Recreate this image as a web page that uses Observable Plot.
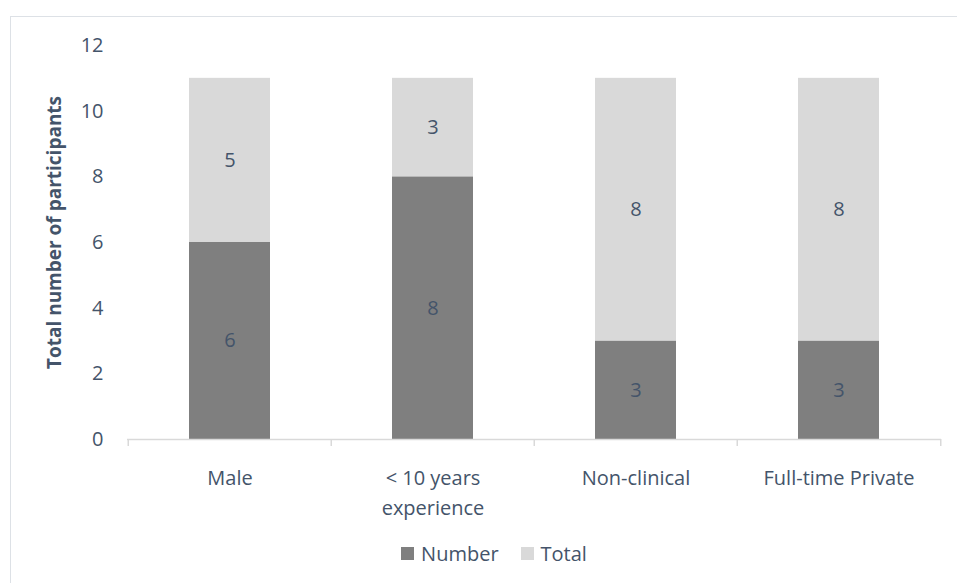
<!DOCTYPE html>
<html>
<head>
<meta charset="utf-8">
<script src="https://cdn.jsdelivr.net/npm/d3@7"></script>
<script src="https://cdn.jsdelivr.net/npm/@observablehq/plot@0.6"></script>
<style>
  html, body { margin: 0; padding: 0; background: #fff; }
  body { width: 957px; height: 583px; position: relative; overflow: hidden; font-family: "Open Sans", sans-serif; }
  #frame { position: absolute; left: 10px; top: 16px; width: 980px; height: 620px; border: 1px solid #dde1e6; pointer-events: none; }
  #chart { position: absolute; left: 0; top: 0; }
  #legend { position: absolute; left: 31px; top: 540px; width: 926px; display: flex; justify-content: center; align-items: center; gap: 22px; font-size: 20px; color: #44546a; }
  #legend span.item { display: inline-flex; align-items: center; gap: 7px; }
  #legend span.sw { display: inline-block; width: 13px; height: 13px; }
</style>
</head>
<body>
<div id="frame"></div>
<div id="chart"></div>
<div id="legend"></div>
<script>
const categories = ["Male", "< 10 years experience", "Non-clinical", "Full-time Private"];
const seriesNames = ["Number", "Total"];
const numberValues = [6, 8, 3, 3];
const totalValues = [5, 3, 8, 8];
const yTicks = [0, 2, 4, 6, 8, 10, 12];
const seriesColors = ["#7f7f7f", "#d9d9d9"];
const textColor = "#44546a";

const rows = [];
categories.forEach((c, i) => {
  rows.push({category: c, series: "Number", value: numberValues[i], base: 0});
  rows.push({category: c, series: "Total", value: totalValues[i], base: numberValues[i]});
});

const W = 957, H = 530;
const mL = 127, mR = 16, mT = 45, mB = 91;
const step = (W - mL - mR) / categories.length;

const chart = Plot.plot({
  width: W,
  height: H,
  marginLeft: mL,
  marginRight: mR,
  marginTop: mT,
  marginBottom: mB,
  style: {fontFamily: "Open Sans", fontSize: "20px", color: textColor, background: "transparent"},
  x: {domain: categories, paddingInner: 0.6, paddingOuter: 0.3},
  y: {domain: [0, 12]},
  color: {domain: seriesNames, range: seriesColors},
  marks: [
    Plot.barY(rows, Plot.stackY({x: "category", y: "value", fill: "series"})),
    Plot.ruleY([0], {stroke: "#d9d9d9", strokeWidth: 1.5}),
    Plot.ruleX(categories, {x: d => d, dx: -step / 2, y1: 0, y2: 0, stroke: "#d9d9d9", strokeWidth: 1.5, insetBottom: -7}),
    Plot.ruleX([categories[categories.length - 1]], {x: d => d, dx: step / 2, y1: 0, y2: 0, stroke: "#d9d9d9", strokeWidth: 1.5, insetBottom: -7}),
    Plot.text(rows, {x: "category", y: d => d.base + d.value / 2, text: d => String(d.value), fill: textColor, fontSize: 20}),
    Plot.axisY({
      ticks: yTicks,
      tickSize: 0,
      tickPadding: 24,
      fontSize: 20,
      fill: textColor,
      label: "Total number of participants",
      labelAnchor: "center",
      labelArrow: "none",
      labelOffset: 80
    }),
    Plot.axisX({
      tickSize: 0,
      tickPadding: 24,
      fontSize: 20,
      fill: textColor,
      lineHeight: 1.5,
      label: null,
      tickFormat: d => d.replace(" experience", "\nexperience")
    })
  ]
});

// bold y axis label, nudged up like the original
chart.querySelectorAll("g[aria-label='y-axis label'] text").forEach(t => {
  t.setAttribute("font-weight", "bold");
  t.setAttribute("font-size", "19");
  t.setAttribute("transform", "translate(0,-10) " + (t.getAttribute("transform") || ""));
});
document.getElementById("chart").appendChild(chart);

const legend = document.getElementById("legend");
seriesNames.forEach((s, i) => {
  const item = document.createElement("span");
  item.className = "item";
  const sw = document.createElement("span");
  sw.className = "sw";
  sw.style.background = seriesColors[i];
  const label = document.createElement("span");
  label.textContent = s;
  item.appendChild(sw);
  item.appendChild(label);
  legend.appendChild(item);
});
</script>
</body>
</html>
